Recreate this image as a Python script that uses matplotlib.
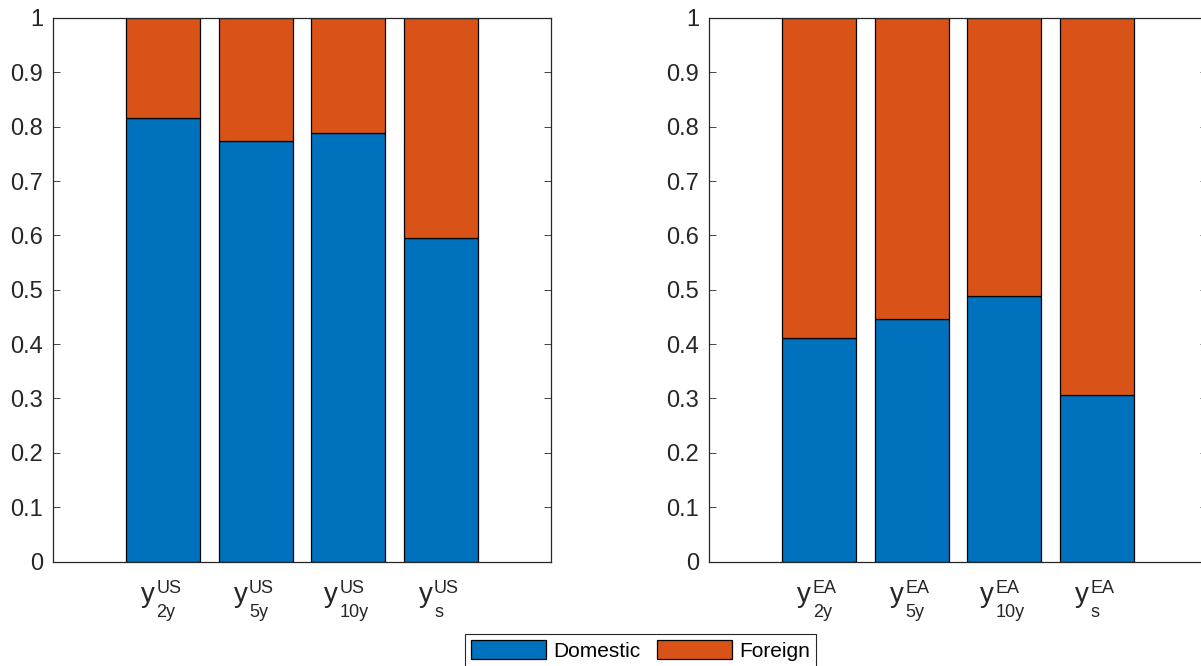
import matplotlib
matplotlib.use("Agg")
import matplotlib.pyplot as plt
import matplotlib.transforms as mtransforms
import numpy as np

plt.rcParams["font.family"] = ["Liberation Sans", "DejaVu Sans"]

# ---------------------------------------------------------------------------
# Data: domestic share of variance per yield (foreign = 1 - domestic)
# ---------------------------------------------------------------------------
us_region = "US"
ea_region = "EA"
maturities = ["2y", "5y", "10y", "s"]

us_domestic = [0.816, 0.773, 0.788, 0.595]
ea_domestic = [0.412, 0.446, 0.488, 0.307]

BLUE = "#0072BD"
ORANGE = "#D95319"
AXCOL = "#262626"
W, H = 1201, 666

fig = plt.figure(figsize=(W / 100, H / 100), dpi=100)

ax_l = fig.add_axes([53 / W, 1 - 561.5 / H, 498 / W, 543.5 / H])
ax_r = fig.add_axes([709 / W, 1 - 561.5 / H, 498 / W, 543.5 / H])
renderer = fig.canvas.get_renderer()


def label_at(ax, x, region, sub):
    """Draw y^{region}_{sub} below the axis, centred on data x (pixel offsets)."""
    base = ax.get_xaxis_transform()

    def put(s, dx, dy, size):
        tr = mtransforms.offset_copy(base, fig=fig, x=dx, y=dy, units="dots")
        return ax.text(x, 0, s, transform=tr, ha="left", va="baseline",
                       fontsize=size, color=AXCOL)

    ty = put("y", 0, -40.5, 20)
    wy = ty.get_window_extent(renderer).width
    kern = 1.5
    tsup = put(region, wy + kern, -31.5, 13)
    tsub = put(sub, wy + kern, -55.5, 13)
    wsc = max(tsup.get_window_extent(renderer).width,
              tsub.get_window_extent(renderer).width)
    shift = -(wy + kern + wsc) / 2 - 2
    for t, dx, dy in ((ty, 0, -40.5), (tsup, wy + kern, -31.5), (tsub, wy + kern, -55.5)):
        t.set_transform(mtransforms.offset_copy(base, fig=fig, x=dx + shift, y=dy,
                                                units="dots"))


def stacked(ax, region, domestic):
    x = np.arange(1, len(domestic) + 1)
    dom = np.array(domestic)
    foreign = 1.0 - dom
    b1 = ax.bar(x, dom, width=0.8, color=BLUE, edgecolor="black", linewidth=0.9,
                label="Domestic", zorder=2)
    b2 = ax.bar(x, foreign, bottom=dom, width=0.8, color=ORANGE, edgecolor="black",
                linewidth=0.9, label="Foreign", zorder=2)
    ax.set_xlim(-0.19, 5.19)
    ax.set_ylim(0, 1)
    ax.set_xticks(x)
    ax.set_xticklabels([])
    for xi, m in zip(x, maturities):
        label_at(ax, xi, region, m)
    yt = np.round(np.arange(0, 1.01, 0.1), 1)
    ax.set_yticks(yt)
    ax.set_yticklabels([f"{v:g}" for v in yt])
    ax.tick_params(axis="y", direction="in", length=5, width=0.6, colors=AXCOL,
                   labelsize=17, right=True, pad=7)
    ax.tick_params(axis="x", length=0)
    for s in ax.spines.values():
        s.set_color(AXCOL)
        s.set_linewidth(0.9)
    return b1, b2


h1, h2 = stacked(ax_l, us_region, us_domestic)
stacked(ax_r, ea_region, ea_domestic)

leg = fig.legend([h1, h2], ["Domestic", "Foreign"], loc="upper center",
                 bbox_to_anchor=(640.5 / W, 1 - 634 / H), ncol=2, fontsize=15,
                 handlelength=3.6, handleheight=1.0, handletextpad=0.33,
                 columnspacing=0.8, borderpad=0.3, borderaxespad=0,
                 fancybox=False, edgecolor=AXCOL, framealpha=1)
leg.get_frame().set_linewidth(0.8)

fig.savefig("out.png", dpi=100)
